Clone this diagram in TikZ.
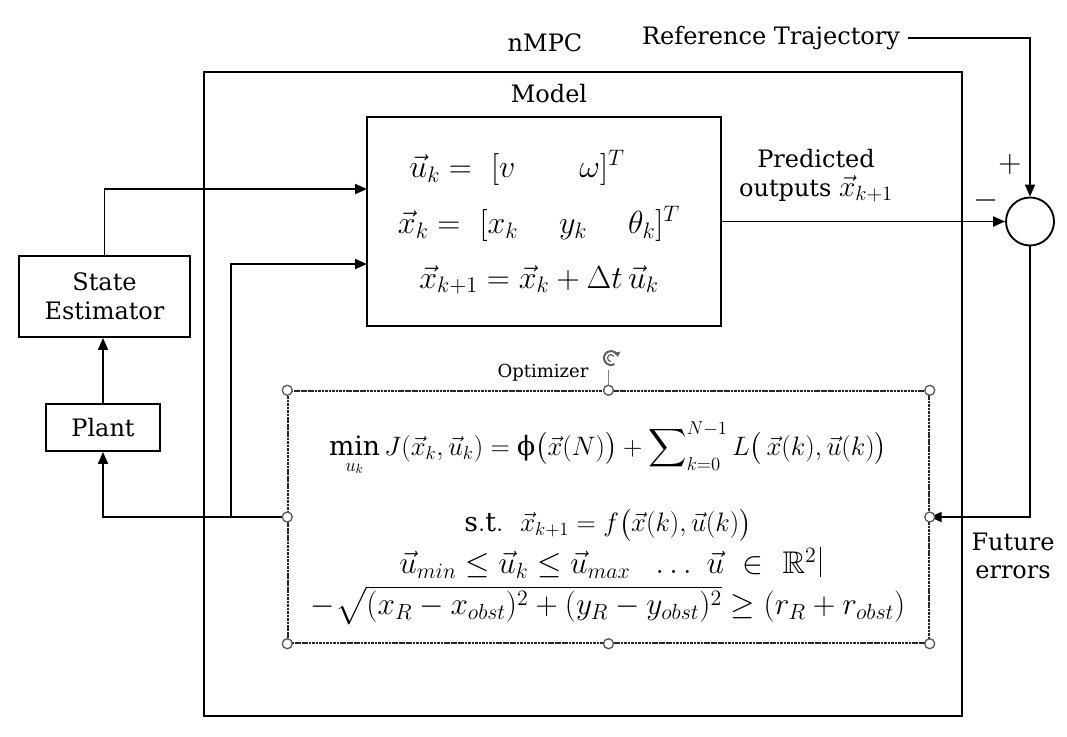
\RequirePackage{fix-cm}
\documentclass[tikz,border=0pt]{standalone}
\usepackage{amsmath,amssymb}
\usepackage{fontspec}
\setmainfont{DejaVu Serif}
\usetikzlibrary{arrows.meta,fit,calc}
\begin{document}
\begin{tikzpicture}[x=0.75pt,y=-0.75pt,
  font=\fontsize{18}{21.5}\selectfont,
  blk/.style={draw, line width=1.4pt, inner sep=0pt},
  conn/.style={line width=1.4pt},
  arr/.style={conn, -{Triangle[length=9pt,width=7.5pt]}},
  txt/.style={inner sep=0pt, align=center},
  mathA/.style={inner sep=0pt, font=\fontsize{24}{28}\selectfont},
  mathB/.style={inner sep=0pt, font=\fontsize{20}{24}\selectfont},
  mathC/.style={inner sep=0pt, font=\fontsize{23.5}{28}\selectfont},
  sign/.style={inner sep=0pt, font=\fontsize{24}{28}\selectfont},
  handle/.style={circle, draw=gray!70!black, fill=white, line width=1pt, minimum size=7.5pt, inner sep=0pt},
  selframe/.style={draw=black!85, line width=1.1pt, dash pattern=on 2pt off 0.6pt, inner sep=0pt}]
\useasboundingbox (0,0) rectangle (1067,736);

% outer nMPC box
\coordinate (o1) at (204,72);
\coordinate (o2) at (962,716);
\node[blk, fit=(o1)(o2)] (outer) {};
\node[txt] (nmpc) at (545,43) {nMPC};
\node[txt] (modellbl) at (549,94) {Model};

% model box
\coordinate (m1) at (367,117);
\coordinate (m2) at (721,326);
\node[blk, fit=(m1)(m2)] (model) {};
\node[mathA] (eq1) at (517,168) {$\vec{u}_k =\ [v \qquad \omega]^T$};
\node[mathA] (eq2) at (539,224) {$\vec{x}_k =\ [x_k \quad\; y_k \quad\; \theta_k]^T$};
\node[mathA] (eq3) at (539,280) {$\vec{x}_{k+1} = \vec{x}_k + \Delta t\, \vec{u}_k$};

% predicted outputs label
\node[txt] (pred) at (816,176) {Predicted\\outputs {\fontsize{22}{26}\selectfont$\vec{x}_{k+1}$}};

% summing junction
\node[circle, draw, line width=1.4pt, minimum size=48pt*0.75, inner sep=0pt] (sum) at (1030,221.5) {};
\node[sign] (plus) at (1010,164) {$+$};
\node[sign] (minus) at (986,200) {$-$};

% reference trajectory
\node[txt] (ref) at (771,38) {Reference Trajectory};

% future errors
\node[txt] (fut) at (1013,556) {Future\\errors};

% state estimator and plant
\coordinate (s1) at (19,256);
\coordinate (s2) at (190,337);
\node[blk, fit=(s1)(s2)] (se) {};
\node[txt] (setxt) at (se.center) {State\\Estimator};
\coordinate (p1) at (46,404);
\coordinate (p2) at (160,451);
\node[blk, fit=(p1)(p2)] (plant) {};
\node[txt] (ptxt) at (plant.center) {Plant};

% optimizer
\coordinate (q1) at (288,391);
\coordinate (q2) at (929,643);
\node[selframe, fit=(q1)(q2)] (opt) {};
\node[txt, font=\fontsize{13.5}{16}\selectfont] (optlbl) at (543,373) {Optimizer};
\node[mathB] (oeq1) at (608,449) {$\displaystyle\min_{u_k} J(\vec{x}_k,\vec{u}_k) = \mbox{ϕ}\bigl(\vec{x}(N)\bigr) + \sum\nolimits_{k=0}^{N-1} L\bigl(\,\vec{x}(k),\vec{u}(k)\bigr)$};
\node[mathB] (oeq2) at (608,525) {$\mathrm{s.t.}\ \ \vec{x}_{k+1} = f\bigl(\vec{x}(k),\vec{u}(k)\bigr)$};
\node[mathC] (oeq3) at (608,563) {$\vec{u}_{min} \le \vec{u}_k \le \vec{u}_{max}\ \ \ldots\ \vec{u}\ \in\ \mathbb{R}^2$};
\node[mathC] (oeq4) at (608,605) {$-\sqrt{(x_R - x_{obst})^2 + (y_R - y_{obst})^2} \ge (r_R + r_{obst})$};
\coordinate (cur1) at ($(oeq3.east)+(4,-16)$);
\coordinate (cur2) at ($(oeq3.east)+(4,14)$);
\draw[line width=0.6pt] (cur1) -- (cur2);

% connectors
\coordinate (in1) at (367,189);
\coordinate (in2) at (367,264);
\coordinate (br) at (231,517);
\draw[arr] (plant.north) -- (plant.north |- se.south);
\draw[arr] (se.north) |- (in1);
\draw[arr] (opt.west) -| (plant.south);
\draw[arr] (br) |- (in2);
\draw[arr] (model.east |- sum.west) -- (sum.west);
\draw[arr] (ref.east) ++(8,0) -| (sum.north);
\draw[arr] (sum.south) |- (opt.east);

% selection handles
\coordinate (rot) at (611,358);
\draw[gray, line width=1pt] (opt.north) -- ++(0,-20);
\draw[gray!75!black, line width=1.5pt, -{Triangle[length=3.5pt,width=5pt]}] ($(rot)+(60:7)$) arc[start angle=60, end angle=350, radius=7];
\draw[gray!75!black, line width=0.9pt] ($(rot)+(90:3.5)$) arc[start angle=90, end angle=330, radius=3.5];
\foreach \a in {north west,north,north east,west,east,south west,south,south east}
  \node[handle] at (opt.\a) {};
\end{tikzpicture}
\end{document}
